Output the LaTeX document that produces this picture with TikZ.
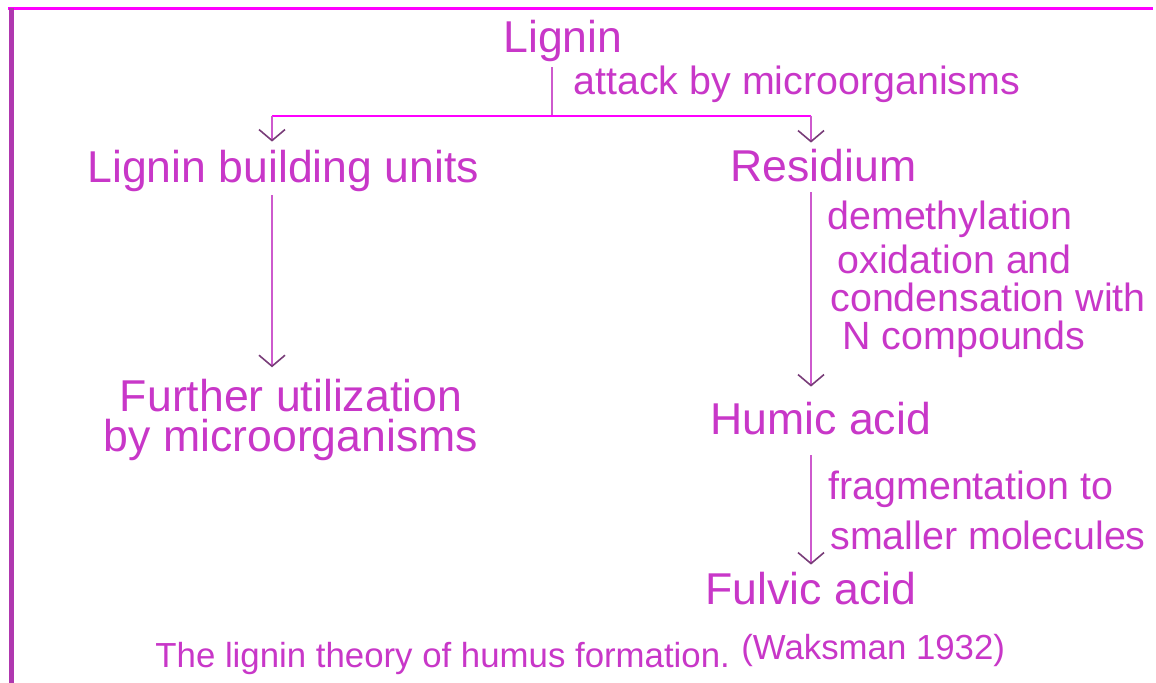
\documentclass[tikz,border=0pt]{standalone}
\usepackage{fontspec}
\setmainfont{Liberation Sans}
\usetikzlibrary{arrows.meta,calc}
\definecolor{inkmag}{RGB}{200,55,200}
\definecolor{linemag}{RGB}{255,0,255}
\definecolor{shaftmag}{RGB}{205,90,205}
\definecolor{framemag}{RGB}{175,55,175}
\definecolor{tipmag}{RGB}{120,60,120}
\tikzset{
  stage/.style={inner sep=0pt,anchor=base west,text=inkmag,
    font=\fontsize{22.3}{26}\selectfont,text height=16pt,text depth=4.5pt},
  twoline/.style={inner sep=0pt,anchor=base,text=inkmag,align=center,
    font=\fontsize{22.3}{20}\selectfont},
  note/.style={inner sep=0pt,anchor=base west,text=inkmag,
    font=\fontsize{19.7}{23}\selectfont},
  credit/.style={inner sep=0pt,anchor=base west,text=inkmag,
    font=\fontsize{17.4}{20}\selectfont},
  stem/.style={draw=shaftmag,line width=1pt},
  flow/.style={stem,-{Straight Barb[length=5.5pt,width=13pt,color=tipmag,line width=0.8pt]}},
}

\begin{document}
\begin{tikzpicture}[x=0.5pt,y=-0.5pt]
\useasboundingbox (0,0) rectangle (1156,683);
\draw[linemag,line width=1.5pt] (8,9) -- (1153,9);
\draw[framemag,line width=2.5pt] (11,8) -- (11,683);

\node[stage] (lig) at (503,53) {Lignin};
\node[stage] (lbu) at (87,183) {Lignin building units};
\node[stage] (res) at (730,182) {Residium};
\node[twoline] (fur) at (291,452) {Further utilization\\by microorganisms};
\node[stage] (hum) at (710,435) {Humic acid};
\node[stage] (ful) at (705,604) {Fulvic acid};

\node[note] (lbatk) at (573,95) {attack by microorganisms};
\node[note] (lbdem) at (827,230) {demethylation};
\node[note] (lbox) at (837,274) {oxidation and};
\node[note] (lbcon) at (830,312) {condensation with};
\node[note] (lbn) at (842,350) {N compounds};
\node[note] (lbfr) at (828,500) {fragmentation to};
\node[note] (lbsm) at (830,550) {smaller molecules};

\node[credit] (cap) at (155,667) {The lignin theory of humus formation.};
\node[credit] (capref) at (741,659) {(Waksman 1932)};

\coordinate (split) at (552,116);
\coordinate (lcol) at (272,116);
\coordinate (rcol) at (811,116);

\draw[stem,shorten <=2.5pt] (lig.south -| split) -- (split);
\draw[linemag,line width=1.2pt] (lcol) -- (rcol);
\draw[flow,shorten >=4.5pt] (lcol) -- (lbu.north -| lcol);
\draw[flow,shorten >=3.5pt] (rcol) -- (res.north -| rcol);
\draw[flow,shorten <=1.5pt,shorten >=6pt] (lbu.south -| lcol) -- (fur.north -| lcol);
\draw[flow,shorten <=0.5pt,shorten >=8pt] (res.south -| rcol) -- (hum.north -| rcol);
\draw[flow,shorten <=5.5pt,shorten >=3.5pt] (hum.south -| rcol) -- (ful.north -| rcol);
\end{tikzpicture}
\end{document}
